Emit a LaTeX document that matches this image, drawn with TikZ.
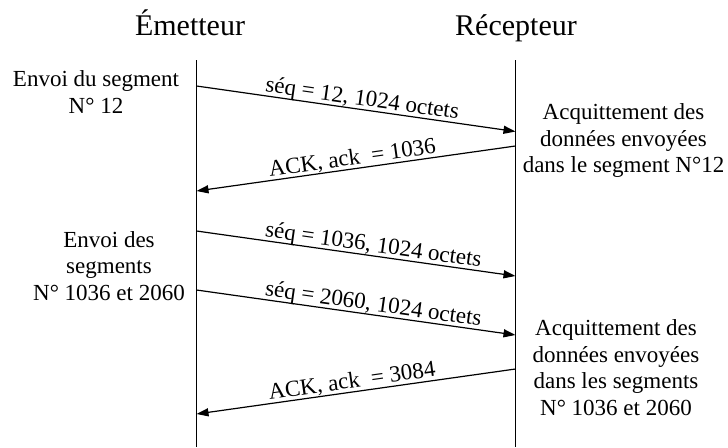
\documentclass[tikz,border=0pt]{standalone}
\usepackage{fontspec}
\setmainfont{Liberation Serif}
\usetikzlibrary{arrows.meta}
\begin{document}
\begin{tikzpicture}[x=1pt,y=-1pt,
  lifeline/.style={line width=1.3pt},
  msg/.style={line width=1.2pt,-{Triangle[length=12pt,width=8pt]}},
  msglabel/.style={sloped,anchor=south,inner xsep=0pt,inner ysep=3.5pt,
    text depth=0pt,font=\fontsize{23}{26.5}\selectfont},
  actor/.style={font=\fontsize{30}{34}\selectfont,anchor=base,inner sep=0pt},
  note/.style={align=center,font=\fontsize{23}{26.5}\selectfont,
    anchor=base,inner sep=0pt}]
\useasboundingbox (0,0) rectangle (728,447);

% actors
\node[actor] (em) at (190,35) {Émetteur};
\node[actor] (rc) at (516,35) {Récepteur};

% lifelines
\coordinate (eTop) at (196.5,60);
\coordinate (eBot) at (196.5,447);
\coordinate (rTop) at (515.5,60);
\coordinate (rBot) at (515.5,447);
\draw[lifeline] (eTop) -- (eBot);
\draw[lifeline] (rTop) -- (rBot);

% message end points
\coordinate (s1) at (196.5,86);
\coordinate (r1) at (515.5,131.5);
\coordinate (r2) at (515.5,146);
\coordinate (s2) at (196.5,191);
\coordinate (s3) at (196.5,231);
\coordinate (r3) at (515.5,276);
\coordinate (s4) at (196.5,290);
\coordinate (r4) at (515.5,335);
\coordinate (r5) at (515.5,369);
\coordinate (s5) at (196.5,414);

% messages
\draw[msg] (s1) -- node[msglabel,pos=0.515] {séq = 12, 1024 octets} (r1);
\draw[msg] (r2) -- node[msglabel,pos=0.507] {ACK, ack~~= 1036} (s2);
\draw[msg] (s3) -- node[msglabel,pos=0.55] {séq = 1036, 1024 octets} (r3);
\draw[msg] (s4) -- node[msglabel,pos=0.55] {séq = 2060, 1024 octets} (r4);
\draw[msg] (r5) -- node[msglabel,pos=0.508] {ACK, ack~~= 3084} (s5);

% side notes (anchored at the baseline of their last line)
\node[note] (n1) at (96,113.3) {Envoi du segment\\N° 12};
\node[note] (n2) at (109,300) {Envoi des\\segments\\N° 1036 et 2060};
\node[note] (n3) at (623.5,172.7) {Acquittement des\\données envoyées\\dans le segment N°12};
\node[note] (n4) at (616,415) {Acquittement des\\données envoyées\\dans les segments\\N° 1036 et 2060};
\end{tikzpicture}
\end{document}
